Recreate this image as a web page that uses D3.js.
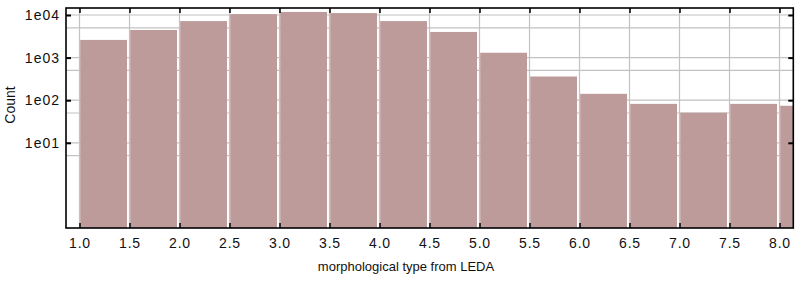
<!DOCTYPE html>
<html>
<head>
<meta charset="utf-8">
<script src="https://cdn.jsdelivr.net/npm/d3@7"></script>
<style>
  body { margin: 0; background: #fff; }
  text { font-family: 'Liberation Sans', Arial, sans-serif; fill: #111; }
</style>
</head>
<body>
<div id="container"></div>
<script>
// histogram bins (left edges, width 0.5) and counts
const binStarts = [1.0, 1.5, 2.0, 2.5, 3.0, 3.5, 4.0, 4.5, 5.0, 5.5, 6.0, 6.5, 7.0, 7.5, 8.0];
const counts = [2600, 4450, 7200, 10500, 11800, 11100, 7200, 4000, 1300, 360, 141, 82, 51, 82, 74];
const binWidth = 0.5;

const xTicks = [1.0, 1.5, 2.0, 2.5, 3.0, 3.5, 4.0, 4.5, 5.0, 5.5, 6.0, 6.5, 7.0, 7.5, 8.0];
const yTicks = [10, 100, 1000, 10000];
const yTickLabels = ['1e01', '1e02', '1e03', '1e04'];
const yGrid = [5, 10, 50, 100, 500, 1000, 5000, 10000];

const svgWidth = 808;
const svgHeight = 281;
const plotLeft = 66;
const plotRight = 793.3;
const plotTop = 8;
const plotBottom = 228;

const svg = d3
  .select('#container')
  .append('svg')
  .attr('width', svgWidth)
  .attr('height', svgHeight);

const xScale = d3.scaleLinear().domain([0.865, 8.138]).range([plotLeft, plotRight]);
const yScale = d3.scaleLog().domain([0.1, 14600]).range([plotBottom, plotTop]);

svg
  .append('clipPath')
  .attr('id', 'plot-clip')
  .append('rect')
  .attr('x', plotLeft)
  .attr('y', plotTop)
  .attr('width', plotRight - plotLeft)
  .attr('height', plotBottom - plotTop);

// grid
const grid = svg.append('g').attr('stroke', '#c2c2c2').attr('stroke-width', 1.2);
grid
  .selectAll('line.gx')
  .data(xTicks)
  .enter()
  .append('line')
  .attr('x1', d => xScale(d))
  .attr('x2', d => xScale(d))
  .attr('y1', plotTop)
  .attr('y2', plotBottom);
grid
  .selectAll('line.gy')
  .data(yGrid)
  .enter()
  .append('line')
  .attr('x1', plotLeft)
  .attr('x2', plotRight)
  .attr('y1', d => yScale(d))
  .attr('y2', d => yScale(d));

// bars
svg
  .append('g')
  .attr('clip-path', 'url(#plot-clip)')
  .selectAll('rect')
  .data(counts)
  .enter()
  .append('rect')
  .attr('x', (d, i) => xScale(binStarts[i]) + 0.7)
  .attr('width', (d, i) => xScale(binStarts[i] + binWidth) - xScale(binStarts[i]) - 3.2)
  .attr('y', d => yScale(d))
  .attr('height', d => plotBottom - yScale(d))
  .attr('fill', '#be9b9b');

// axes (ticks inward on all four sides)
const tickLen = 5;
svg
  .append('g')
  .attr('transform', `translate(0,${plotBottom})`)
  .call(d3.axisBottom(xScale).tickValues(xTicks).tickSize(-tickLen).tickPadding(10).tickFormat(d3.format('.1f')))
  .call(g => g.select('.domain').remove())
  .call(g => g.selectAll('line').attr('stroke', '#000').attr('stroke-width', 1.5))
  .call(g => g.selectAll('text').attr('font-size', 14).attr('letter-spacing', 0.8).attr('fill', '#111'));

svg
  .append('g')
  .attr('transform', `translate(0,${plotTop})`)
  .call(d3.axisTop(xScale).tickValues(xTicks).tickSize(-tickLen).tickFormat(''))
  .call(g => g.select('.domain').remove())
  .call(g => g.selectAll('line').attr('stroke', '#000').attr('stroke-width', 1.5));

svg
  .append('g')
  .attr('transform', `translate(${plotLeft},0)`)
  .call(d3.axisLeft(yScale).tickValues(yTicks).tickSize(-tickLen).tickPadding(6)
    .tickFormat((d, i) => yTickLabels[i]))
  .call(g => g.select('.domain').remove())
  .call(g => g.selectAll('line').attr('stroke', '#000').attr('stroke-width', 2))
  .call(g => g.selectAll('text').attr('font-size', 14).attr('letter-spacing', 1).attr('fill', '#111'));

svg
  .append('g')
  .attr('transform', `translate(${plotRight},0)`)
  .call(d3.axisRight(yScale).tickValues(yTicks).tickSize(-tickLen).tickFormat(''))
  .call(g => g.select('.domain').remove())
  .call(g => g.selectAll('line').attr('stroke', '#000').attr('stroke-width', 2));

// frame
svg
  .append('rect')
  .attr('x', plotLeft)
  .attr('y', plotTop)
  .attr('width', plotRight - plotLeft)
  .attr('height', plotBottom - plotTop)
  .attr('fill', 'none')
  .attr('stroke', '#000')
  .attr('stroke-width', 1.6);

// labels
svg
  .append('text')
  .attr('x', 406)
  .attr('y', 271)
  .attr('text-anchor', 'middle')
  .attr('font-size', 13)
  .text('morphological type from LEDA');

svg
  .append('text')
  .attr('transform', 'translate(15,105) rotate(-90)')
  .attr('text-anchor', 'middle')
  .attr('font-size', 14)
  .text('Count');
</script>
</body>
</html>
